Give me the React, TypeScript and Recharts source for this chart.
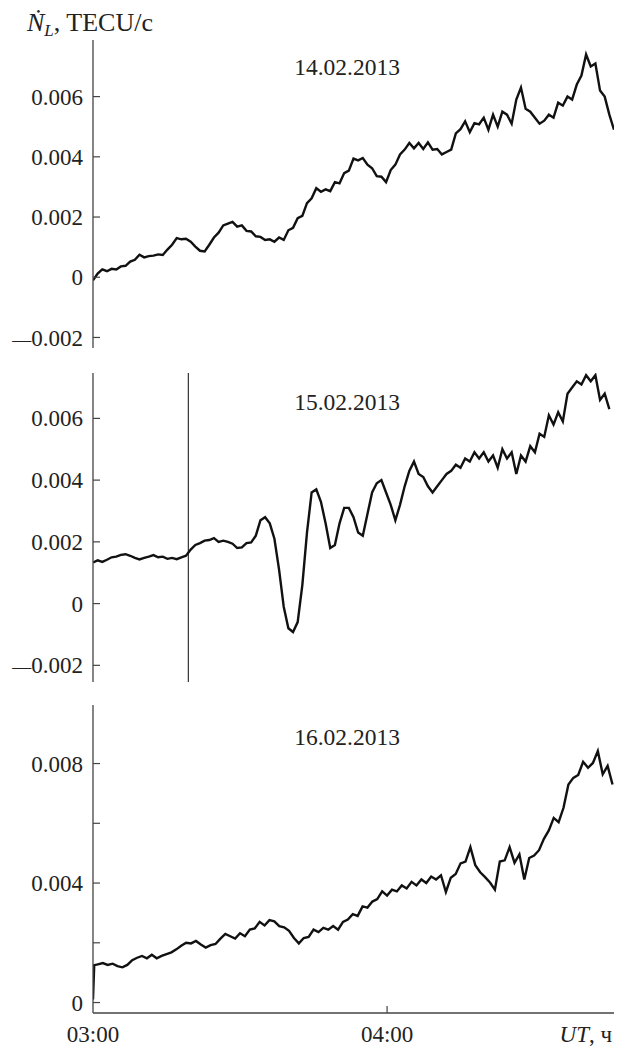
import React from "react";
import { LineChart, Line, XAxis, YAxis, ReferenceLine } from "recharts";

// Values sampled once per minute starting at 03:00 UT
const P1_VALUES = [
  -0.0001, 0.00012, 0.00026, 0.0002, 0.00028, 0.00026, 0.00036, 0.00038, 0.00052, 0.00058,
  0.00075, 0.00066, 0.0007, 0.00072, 0.00076, 0.00074, 0.00092, 0.00108, 0.0013, 0.00126,
  0.00128, 0.00118, 0.00102, 0.00088, 0.00086, 0.00108, 0.00132, 0.00148, 0.00172, 0.00178,
  0.00184, 0.00168, 0.00172, 0.00154, 0.00152, 0.00136, 0.00134, 0.00124, 0.00126, 0.00118,
  0.00132, 0.00124, 0.00156, 0.00164, 0.00196, 0.00204, 0.00246, 0.00262, 0.00296, 0.00284,
  0.00292, 0.00286, 0.00316, 0.00312, 0.00346, 0.00354, 0.00394, 0.00388, 0.00396, 0.00374,
  0.00362, 0.00336, 0.00334, 0.00316, 0.00356, 0.00374, 0.00408, 0.00424, 0.00446, 0.00428,
  0.00446, 0.00426, 0.00448, 0.00424, 0.00426, 0.00408, 0.00416, 0.00424, 0.00478, 0.00492,
  0.00518, 0.00482, 0.00512, 0.00508, 0.0053, 0.0049, 0.0054, 0.005, 0.0055, 0.0054,
  0.0051, 0.0059, 0.0063, 0.0056, 0.0055, 0.0053, 0.0051, 0.0052, 0.0054, 0.0053,
  0.0058, 0.0057, 0.006, 0.0059, 0.0064, 0.0067, 0.0074, 0.007, 0.0071, 0.0062,
  0.006, 0.0054, 0.0049,
];

const P2_VALUES = [
  0.00133, 0.0014, 0.00135, 0.00142, 0.0015, 0.00152, 0.00158, 0.0016, 0.00155, 0.00148,
  0.00143, 0.00148, 0.00152, 0.00157, 0.0015, 0.00152, 0.00145, 0.00148, 0.00144, 0.0015,
  0.00155, 0.00175, 0.0019, 0.00196, 0.00204, 0.00206, 0.00212, 0.002, 0.00204, 0.002,
  0.00194, 0.0018, 0.00182, 0.00196, 0.00198, 0.0022, 0.0027, 0.0028, 0.0026, 0.0021,
  0.0011, -0.0001, -0.0008, -0.00092, -0.0006, 0.0006, 0.0023, 0.0036, 0.0037, 0.0033,
  0.0026, 0.0018, 0.0019, 0.0026, 0.0031, 0.0031, 0.0028, 0.0023, 0.0022, 0.0029,
  0.0036, 0.0039, 0.004, 0.0036, 0.0032, 0.0027, 0.0032, 0.0038, 0.0043, 0.0046,
  0.0042, 0.0041, 0.0038, 0.0036, 0.0038, 0.004, 0.0042, 0.0043, 0.0045, 0.0044,
  0.0047, 0.0046, 0.0049, 0.0047, 0.0049, 0.0046, 0.0048, 0.0044, 0.005, 0.0047,
  0.0049, 0.0042, 0.0048, 0.0046, 0.0051, 0.0049, 0.0055, 0.0054, 0.0061, 0.0058,
  0.0062, 0.0059, 0.0068, 0.007, 0.0072, 0.0071, 0.0074, 0.0072, 0.0074, 0.0066,
  0.0068, 0.0063,
];

// first sample of 16.02 sits just before the jump at the start of the record
const P3_LEAD = { t: 0, v: 0.0001 };
const P3_VALUES = [
  0.00125, 0.00128, 0.00132, 0.00126, 0.0013, 0.00122, 0.00118, 0.00126, 0.00142, 0.0015,
  0.00156, 0.00148, 0.0016, 0.00148, 0.00156, 0.00162, 0.00168, 0.00178, 0.0019, 0.002,
  0.00198, 0.00206, 0.00194, 0.00184, 0.00192, 0.00196, 0.00214, 0.0023, 0.00222, 0.00214,
  0.00232, 0.00222, 0.00244, 0.00248, 0.0027, 0.00258, 0.00276, 0.00272, 0.00256, 0.00252,
  0.0024, 0.00216, 0.00198, 0.00216, 0.0022, 0.00244, 0.00236, 0.0025, 0.00244, 0.00256,
  0.00244, 0.0027, 0.00278, 0.00296, 0.0029, 0.00322, 0.00318, 0.00338, 0.00346, 0.00372,
  0.00358, 0.00378, 0.00372, 0.00392, 0.00382, 0.00404, 0.00392, 0.00412, 0.004, 0.00422,
  0.00412, 0.00426, 0.0037, 0.00418, 0.0043, 0.00466, 0.00472, 0.0052, 0.0046, 0.00436,
  0.0042, 0.00402, 0.00378, 0.00472, 0.00476, 0.0052, 0.00468, 0.00496, 0.00412, 0.00484,
  0.00492, 0.0051, 0.00548, 0.00576, 0.00618, 0.00604, 0.00652, 0.0073, 0.00752, 0.00762,
  0.00806, 0.00786, 0.00802, 0.00842, 0.00764, 0.00792, 0.0073,
];

const DATES = ["14.02.2013", "15.02.2013", "16.02.2013"];
const Y_TICKS_12 = [-0.002, 0, 0.002, 0.004, 0.006];
const Y_TICKS_3 = [0, 0.002, 0.004, 0.006, 0.008];
const Y_LABELS_3 = [0, 0.004, 0.008];
const X_TICK_LABELS: Record<number, string> = { 0: "03:00", 60: "04:00" };
const EVENT_MINUTE = 20.5;

const FONT = "'Liberation Serif', 'Times New Roman', serif";
const AXIS = "#444";

const toRows = (vals: number[], t0 = 0) => vals.map((v, i) => ({ t: i === 0 ? t0 : i, v }));

const YTick = (labels: number[] | null) => (props: any) => {
  const { x, y, payload } = props;
  const val = payload.value;
  const show = labels === null || labels.some((l) => Math.abs(l - val) < 1e-9);
  const body = val === 0 ? "0" : Math.abs(val).toFixed(3);
  return (
    <g>
      <line x1={x} x2={x + 7} y1={y} y2={y} stroke={AXIS} strokeWidth={1.2} />
      {show && (
        <text x={x - 10} y={y} dy="0.35em" textAnchor="end" fontSize={23} fontFamily={FONT} fill="#222">
          {val < 0 && <tspan fontSize={19}>{"\u2014"}</tspan>}
          <tspan>{body}</tspan>
        </text>
      )}
    </g>
  );
};

const XTick = (withLabels: boolean) => (props: any) => {
  const { x, y, payload } = props;
  const val = payload.value;
  return (
    <g>
      {val !== 0 && <line x1={x} x2={x} y1={y} y2={y - 7} stroke={AXIS} strokeWidth={1.2} />}
      {withLabels && (
        <text x={x} y={y + 29} textAnchor="middle" fontSize={23} fontFamily={FONT} fill="#222">
          {X_TICK_LABELS[val]}
        </text>
      )}
    </g>
  );
};

type PanelProps = {
  top: number;
  height: number;
  mTop: number;
  mBottom: number;
  data: { t: number; v: number }[];
  xMax: number;
  yDomain: [number, number];
  yTicks: number[];
  yLabels: number[] | null;
  xTicks: number[];
  xLabels: boolean;
  xHeight: number;
  refX?: number;
};

const Panel = (p: PanelProps) => (
  <div style={{ position: "absolute", left: 0, top: p.top }}>
    <LineChart
      width={617}
      height={p.height}
      data={p.data}
      margin={{ top: p.mTop, right: 3, bottom: p.mBottom, left: 0 }}
    >
      <XAxis
        type="number"
        dataKey="t"
        domain={[0, p.xMax]}
        ticks={p.xTicks}
        allowDataOverflow
        height={p.xHeight}
        axisLine={{ stroke: AXIS, strokeWidth: 1.3 }}
        tickLine={false}
        tickSize={0}
        tickMargin={0}
        tick={XTick(p.xLabels)}
        interval={0}
      />
      <YAxis
        type="number"
        domain={p.yDomain}
        ticks={p.yTicks}
        allowDataOverflow
        width={93}
        axisLine={{ stroke: AXIS, strokeWidth: 1.3 }}
        tickLine={false}
        tickSize={0}
        tickMargin={0}
        tick={YTick(p.yLabels)}
        interval={0}
      />
      {p.refX !== undefined && (
        <ReferenceLine x={p.refX} stroke="#333" strokeWidth={1.2} ifOverflow="visible" />
      )}
      <Line
        type="linear"
        dataKey="v"
        stroke="#111"
        strokeWidth={2.4}
        strokeLinejoin="miter"
        dot={false}
        isAnimationActive={false}
      />
    </LineChart>
  </div>
);

export default function App() {
  const p3Rows = [P3_LEAD, ...toRows(P3_VALUES, 0.25)];
  return (
    <div style={{ position: "absolute", left: 0, top: 0, width: 617, height: 1046, background: "#fff" }}>
      <Panel
        top={0}
        height={360}
        mTop={40}
        mBottom={12}
        data={toRows(P1_VALUES)}
        xMax={112}
        yDomain={[-0.00235, 0.00788]}
        yTicks={Y_TICKS_12}
        yLabels={null}
        xTicks={[60]}
        xLabels={false}
        xHeight={0}
      />
      <Panel
        top={360}
        height={330}
        mTop={13}
        mBottom={8}
        data={toRows(P2_VALUES)}
        xMax={112}
        yDomain={[-0.00254, 0.00747]}
        yTicks={Y_TICKS_12}
        yLabels={null}
        xTicks={[60]}
        xLabels={false}
        xHeight={0}
        refX={EVENT_MINUTE}
      />
      <Panel
        top={690}
        height={356}
        mTop={15}
        mBottom={3}
        data={p3Rows}
        xMax={106.3}
        yDomain={[-0.00035, 0.00996]}
        yTicks={Y_TICKS_3}
        yLabels={Y_LABELS_3}
        xTicks={[0, 60]}
        xLabels={true}
        xHeight={30}
      />
      <svg
        width={617}
        height={1046}
        style={{ position: "absolute", left: 0, top: 0, pointerEvents: "none" }}
      >
        <text x={27} y={31} fontSize={26} fontFamily={FONT} fill="#222">
          <tspan fontStyle="italic">{"\u1E44"}</tspan>
          <tspan fontStyle="italic" fontSize={17} dy={5}>L</tspan>
          <tspan dy={-5}>, TECU/c</tspan>
        </text>
        <text x={347} y={75} textAnchor="middle" fontSize={23.5} fontFamily={FONT} fill="#222">{DATES[0]}</text>
        <text x={347} y={410} textAnchor="middle" fontSize={23.5} fontFamily={FONT} fill="#222">{DATES[1]}</text>
        <text x={347} y={745} textAnchor="middle" fontSize={23.5} fontFamily={FONT} fill="#222">{DATES[2]}</text>
        <text x={612} y={1042} textAnchor="end" fontSize={23} fontFamily={FONT} fill="#222">
          <tspan fontStyle="italic">UT</tspan>
          <tspan>, ч</tspan>
        </text>
      </svg>
    </div>
  );
}
